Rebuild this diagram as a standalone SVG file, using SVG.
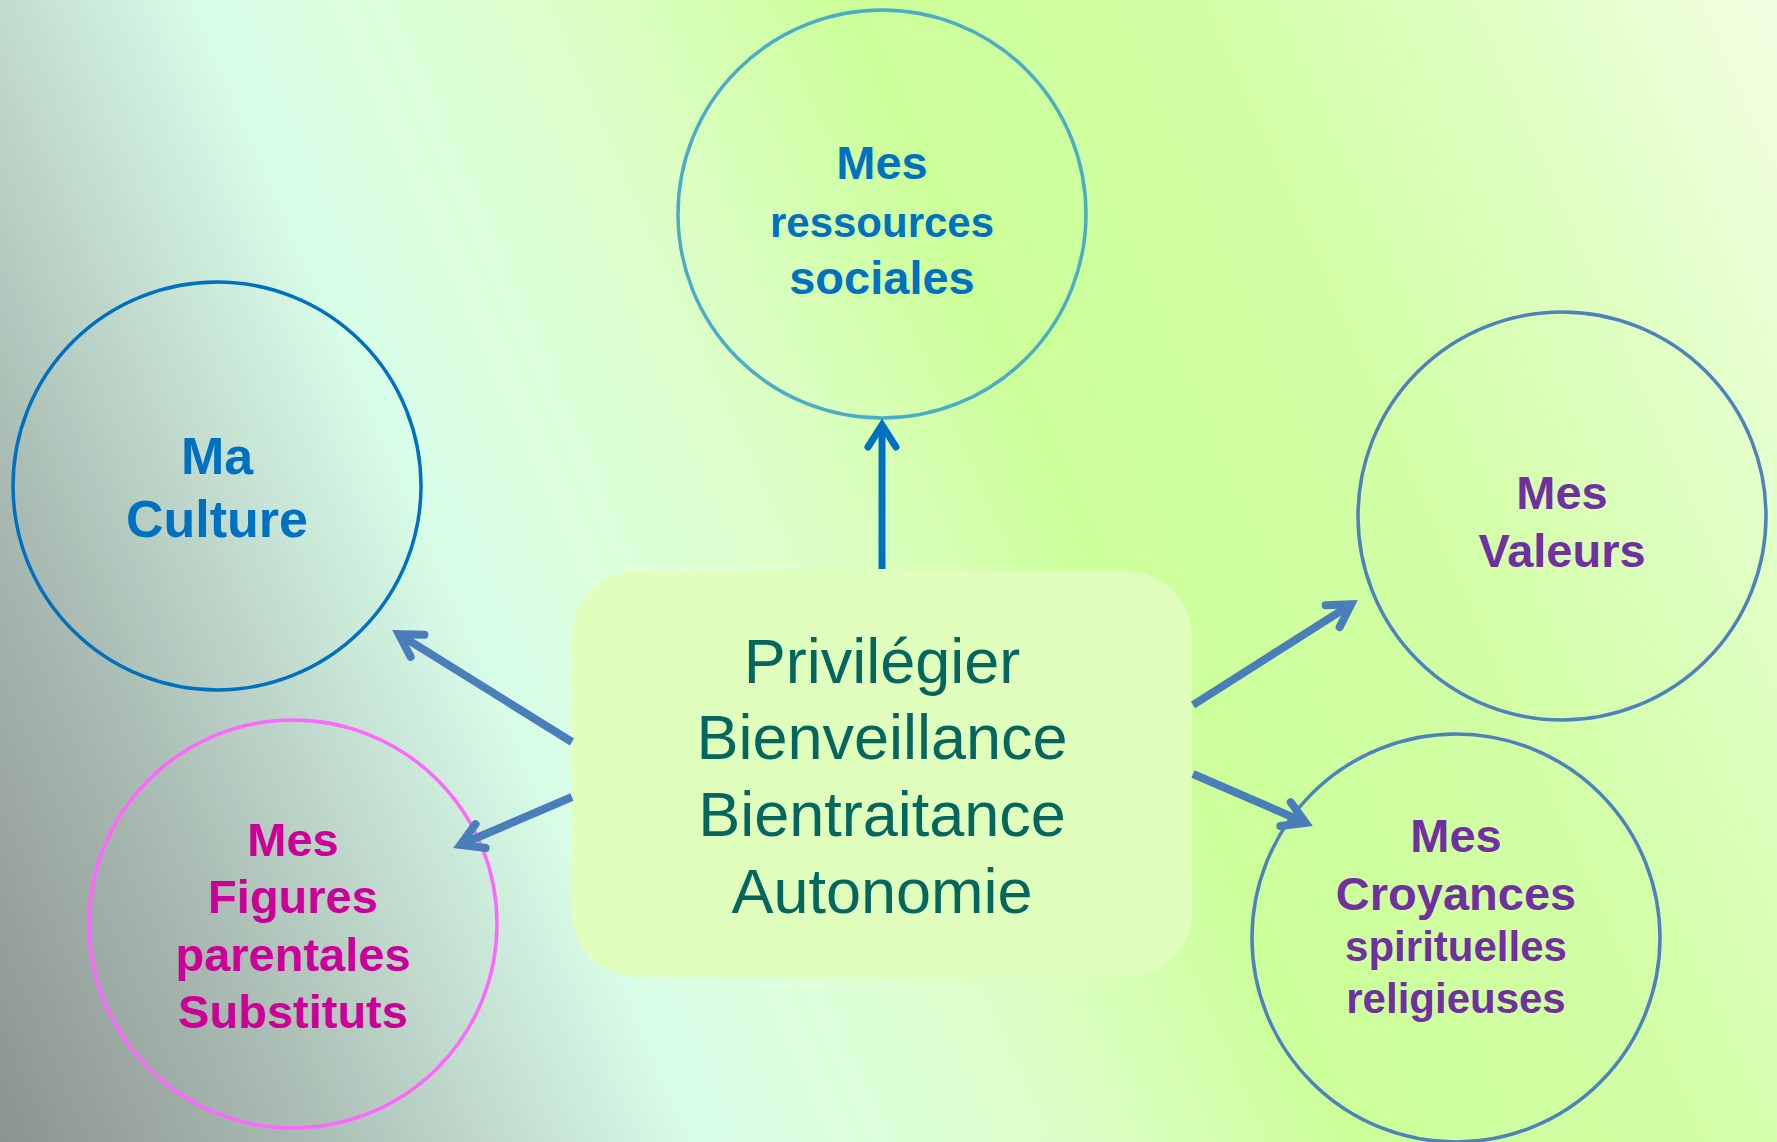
<svg xmlns="http://www.w3.org/2000/svg" width="1777" height="1142" viewBox="0 0 1777 1142">
  <defs>
    <linearGradient id="bg" gradientUnits="userSpaceOnUse" x1="0" y1="1142" x2="1911" y2="305">
      <stop offset="0" stop-color="#8a9490"/>
      <stop offset="0.132" stop-color="#a9bbb2"/>
      <stop offset="0.22" stop-color="#c2dccf"/>
      <stop offset="0.307" stop-color="#d8fde8"/>
      <stop offset="0.395" stop-color="#ddffd8"/>
      <stop offset="0.483" stop-color="#dcffc4"/>
      <stop offset="0.593" stop-color="#ccff99"/>
      <stop offset="0.747" stop-color="#d2ffa6"/>
      <stop offset="0.843" stop-color="#dcffbc"/>
      <stop offset="1" stop-color="#f2ffe2"/>
    </linearGradient>
    <marker id="ahSteel" markerUnits="userSpaceOnUse" viewBox="-40 -30 60 60" markerWidth="60" markerHeight="60" refX="0" refY="0" orient="auto" overflow="visible">
      <path d="M-22,-13 L0,0 L-22,13" fill="none" stroke="#4a7ebb" stroke-width="8" stroke-linecap="round" stroke-linejoin="miter"/>
    </marker>
    <marker id="ahBlue" markerUnits="userSpaceOnUse" viewBox="-40 -30 60 60" markerWidth="60" markerHeight="60" refX="0" refY="0" orient="auto" overflow="visible">
      <path d="M-22,-14 L0,0 L-22,14" fill="none" stroke="#0070c0" stroke-width="7" stroke-linecap="round" stroke-linejoin="miter"/>
    </marker>
  </defs>
  <style>
    .node { fill: none; stroke-width: 3.5; }
    .lbl { font-family: "Liberation Sans", Arial, sans-serif; font-weight: bold; text-anchor: middle; }
    .center { font-family: "Liberation Sans", Arial, sans-serif; font-size: 63px; fill: #04665e; text-anchor: middle; }
    .conn { fill: none; stroke: #4a7ebb; stroke-width: 8; marker-end: url(#ahSteel); }
    .connTop { fill: none; stroke: #0070c0; stroke-width: 7; marker-end: url(#ahBlue); }
  </style>

  <rect x="0" y="0" width="1777" height="1142" fill="url(#bg)"/>

  <g id="node-center">
    <rect x="572" y="571" width="620" height="406" rx="66" ry="66" fill="#e0ffbc"/>
    <text class="center" x="882" y="683">Privilégier</text>
    <text class="center" x="882" y="759">Bienveillance</text>
    <text class="center" x="882" y="836">Bientraitance</text>
    <text class="center" x="882" y="913">Autonomie</text>
  </g>

  <g id="node-ressources">
    <circle class="node" cx="882" cy="214" r="204" stroke="#4bacc6"/>
    <text class="lbl" x="882" y="179" font-size="47" fill="#0070c0">Mes</text>
    <text class="lbl" x="882" y="237" font-size="42" fill="#0070c0">ressources</text>
    <text class="lbl" x="882" y="294" font-size="47" fill="#0070c0">sociales</text>
  </g>

  <g id="node-culture">
    <circle class="node" cx="217" cy="486" r="204" stroke="#0070c0"/>
    <text class="lbl" x="217" y="474" font-size="52" fill="#0070c0">Ma</text>
    <text class="lbl" x="217" y="537" font-size="52" fill="#0070c0">Culture</text>
  </g>

  <g id="node-figures">
    <circle class="node" cx="293" cy="924" r="204" stroke="#ff66ff"/>
    <text class="lbl" x="293" y="856" font-size="47" fill="#cc0099">Mes</text>
    <text class="lbl" x="293" y="913" font-size="47" fill="#cc0099">Figures</text>
    <text class="lbl" x="293" y="971" font-size="47" fill="#cc0099">parentales</text>
    <text class="lbl" x="293" y="1028" font-size="47" fill="#cc0099">Substituts</text>
  </g>

  <g id="node-valeurs">
    <circle class="node" cx="1562" cy="516" r="204" stroke="#4f81bd"/>
    <text class="lbl" x="1562" y="509" font-size="47" fill="#7030a0">Mes</text>
    <text class="lbl" x="1562" y="567" font-size="47" fill="#7030a0">Valeurs</text>
  </g>

  <g id="node-croyances">
    <circle class="node" cx="1456" cy="938" r="204" stroke="#4f81bd"/>
    <text class="lbl" x="1456" y="852" font-size="47" fill="#7030a0">Mes</text>
    <text class="lbl" x="1456" y="910" font-size="47" fill="#7030a0">Croyances</text>
    <text class="lbl" x="1456" y="961" font-size="42" fill="#7030a0">spirituelles</text>
    <text class="lbl" x="1456" y="1013" font-size="42" fill="#7030a0">religieuses</text>
  </g>

  <g id="connectors">
    <line class="connTop" x1="882" y1="569" x2="882" y2="425"/>
    <line class="conn" x1="572" y1="742" x2="398.8" y2="634.2"/>
    <line class="conn" x1="572" y1="797" x2="460.4" y2="844.8"/>
    <line class="conn" x1="1193" y1="705" x2="1351.2" y2="604.3"/>
    <line class="conn" x1="1193" y1="774" x2="1305.7" y2="822.8"/>
  </g>
</svg>
